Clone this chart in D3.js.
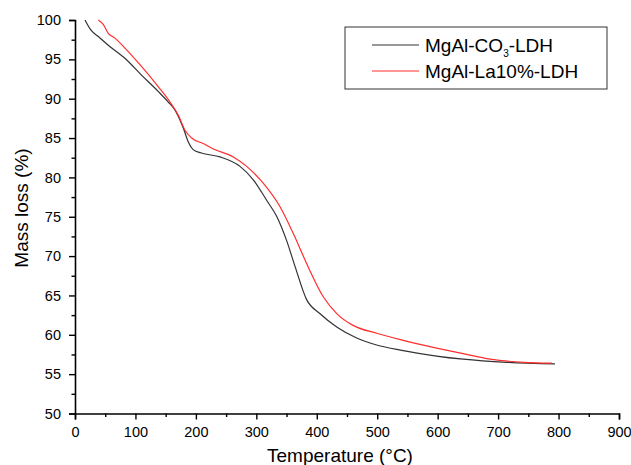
<!DOCTYPE html>
<html><head><meta charset="utf-8">
<script src="https://cdn.jsdelivr.net/npm/d3@7"></script>
<style>body{margin:0;background:#fff}svg{display:block}text{font-family:Arial,"Liberation Sans",sans-serif}</style>
</head><body><svg id="c" width="631" height="465"></svg>
<script>
const seriesNames = ["MgAl-CO3-LDH", "MgAl-La10%-LDH"];
const seriesColors = ["#333333", "#ff2e2e"];
const tempBlack = [16.5,26.5,38.6,55,83,110,138,154,165,179,187.5,196,209,240,273,295,317,334,350,364,383,405,433,466,499,543,598,642,714,794];
const massBlack = [100,98.7,97.9,96.8,95.1,93.0,90.9,89.6,88.6,86.3,84.5,83.5,83.1,82.6,81.4,79.7,77.1,75.0,72.0,68.7,64.5,62.7,61.0,59.6,58.7,58.0,57.3,56.9,56.5,56.3];
const tempRed = [38.6,47,55,66,83,110,138,157,171,182,193,212,229,262,284,311,339,361,383,411,433,460,499,543,587,642,687,742,789];
const massRed = [100,99.4,98.3,97.7,96.4,94.1,91.5,89.6,87.9,86.0,85.0,84.3,83.6,82.6,81.4,79.3,76.3,72.9,69.1,64.8,62.7,61.2,60.2,59.3,58.5,57.6,56.9,56.5,56.4];
const xTicks = [0,100,200,300,400,500,600,700,800,900];
const yTicks = [50,55,60,65,70,75,80,85,90,95,100];

const svg = d3.select("#c");
const x = d3.scaleLinear().domain([0,900]).range([75,619]);
const y = d3.scaleLinear().domain([50,100]).range([413.5,20]);

const xMinor = d3.range(50,900,100);
const yMinor = d3.range(52.5,100,5);

const gx = svg.append("g").attr("transform","translate(0,413.5)")
  .call(d3.axisBottom(x).tickValues(xTicks).tickSize(6).tickPadding(7).tickFormat(d3.format("d")));
const gxm = svg.append("g").attr("transform","translate(0,413.5)")
  .call(d3.axisBottom(x).tickValues(xMinor).tickSize(3.5).tickFormat(""));
const gy = svg.append("g").attr("transform","translate(75,0)")
  .call(d3.axisLeft(y).tickValues(yTicks).tickSize(6).tickPadding(8).tickFormat(d3.format("d")));
const gym = svg.append("g").attr("transform","translate(75,0)")
  .call(d3.axisLeft(y).tickValues(yMinor).tickSize(3.5).tickFormat(""));
[gx,gxm,gy,gym].forEach(g=>{
  g.selectAll("path.domain").attr("stroke","#000").attr("stroke-width",1.6);
  g.selectAll(".tick line").attr("stroke","#000").attr("stroke-width",1.4);
  g.selectAll("text").attr("fill","#000").style("font-size","14.5px").style("font-family","Arial, 'Liberation Sans', sans-serif");
});
gxm.select("path.domain").remove();
gym.select("path.domain").remove();

const line = d3.line().x(d=>x(d[0])).y(d=>y(d[1])).curve(d3.curveMonotoneX);
const dataB = tempBlack.map((t,i)=>[t,massBlack[i]]);
const dataR = tempRed.map((t,i)=>[t,massRed[i]]);
svg.append("path").datum(dataB).attr("d",line).attr("fill","none").attr("stroke",seriesColors[0]).attr("stroke-width",1.2);
svg.append("path").datum(dataR).attr("d",line).attr("fill","none").attr("stroke",seriesColors[1]).attr("stroke-width",1.2);

// axis titles
svg.append("text").attr("x",340).attr("y",462).attr("text-anchor","middle").style("font-size","19px").attr("fill","#000").text("Temperature (°C)");
svg.append("text").attr("transform","translate(28,208) rotate(-90)").attr("text-anchor","middle").style("font-size","19px").attr("fill","#000").text("Mass loss (%)");

// legend
const lg = svg.append("g");
lg.append("rect").attr("x",345).attr("y",27).attr("width",262).attr("height",62).attr("fill","#fff").attr("stroke","#333").attr("stroke-width",1);
lg.append("line").attr("x1",372).attr("x2",419).attr("y1",45).attr("y2",45).attr("stroke",seriesColors[0]).attr("stroke-width",1.2);
lg.append("line").attr("x1",372).attr("x2",419).attr("y1",71).attr("y2",71).attr("stroke",seriesColors[1]).attr("stroke-width",1.2);
const t1 = lg.append("text").attr("x",425).attr("y",52).style("font-size","19px").attr("fill","#000");
t1.append("tspan").text("MgAl-CO");
t1.append("tspan").attr("dy",5).style("font-size","10px").text("3");
t1.append("tspan").attr("dy",-5).text("-LDH");
lg.append("text").attr("x",425).attr("y",78).style("font-size","19px").attr("fill","#000").text("MgAl-La10%-LDH");
</script></body></html>
